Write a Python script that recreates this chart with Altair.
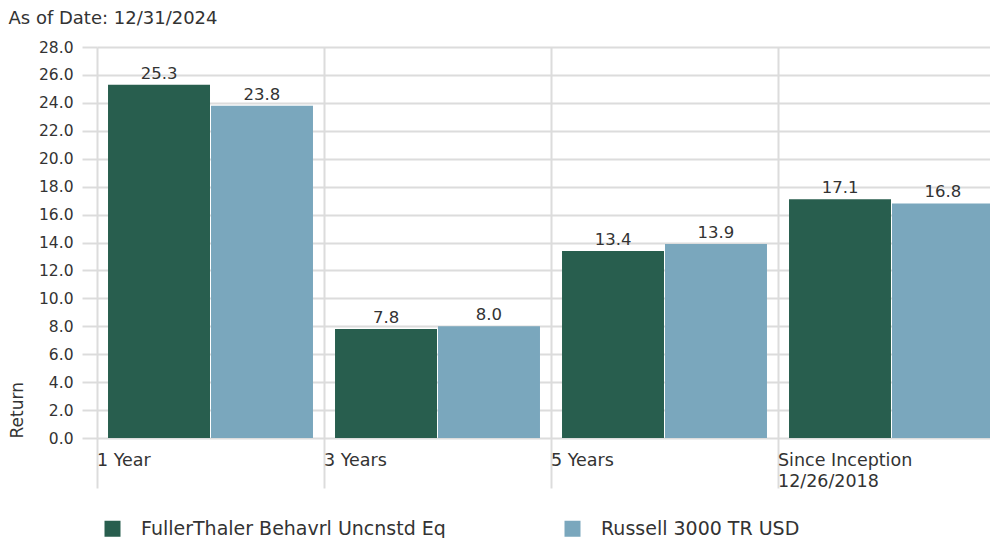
import altair as alt
import pandas as pd

categories = ["1 Year", "3 Years", "5 Years", "Since Inception 12/26/2018"]
series_names = ["FullerThaler Behavrl Uncnstd Eq", "Russell 3000 TR USD"]
fund_values = [25.3, 7.8, 13.4, 17.1]
bench_values = [23.8, 8.0, 13.9, 16.8]
colors = ["#285E4E", "#7AA7BD"]
y_ticks = [0, 2, 4, 6, 8, 10, 12, 14, 16, 18, 20, 22, 24, 26, 28]

rows = []
for c, f, b in zip(categories, fund_values, bench_values):
    rows.append({"cat": c, "series": series_names[0], "value": f})
    rows.append({"cat": c, "series": series_names[1], "value": b})
df = pd.DataFrame(rows)

FONT = "DejaVu Sans"
TXT = "#333333"
GRID = "#dcdcdc"

x_enc = alt.X(
    "cat:N",
    sort=categories,
    scale=alt.Scale(paddingInner=0, paddingOuter=0, range=[0, 908]),
    axis=alt.Axis(
        title=None,
        bandPosition=0,
        labelAlign="left",
        labelBaseline="top",
        labelPadding=-37,
        labelOffset=-113.5,
        tickSize=50,
        tickColor=GRID,
        tickWidth=2,
        grid=True,
        gridColor=GRID,
        gridWidth=2,
        domain=False,
        labelFont=FONT,
        labelFontSize=17.5,
        labelColor=TXT,
        labelLineHeight=21,
        labelAngle=0,
        labelLimit=300,
        labelOverlap=False,
        labelFlush=False,
        labelExpr="datum.value == 'Since Inception 12/26/2018' ? ['Since Inception', '12/26/2018'] : datum.label",
    ),
)
xoff = alt.XOffset(
    "series:N",
    sort=series_names,
    scale=alt.Scale(paddingInner=0.0097, paddingOuter=0.107),
)
y_enc = alt.Y(
    "value:Q",
    scale=alt.Scale(domain=[0, 28], nice=False),
    axis=alt.Axis(
        title="Return",
        titleAnchor="start",
        titleFont=FONT,
        titleFontSize=17,
        titleFontWeight="normal",
        titleColor=TXT,
        titlePadding=12,
        values=y_ticks,
        tickCount=15,
        format=".1f",
        labelFont=FONT,
        labelFontSize=15.5,
        labelColor=TXT,
        labelPadding=9,
        labelOverlap=False,
        labelFlush=False,
        tickSize=15,
        tickColor=GRID,
        tickWidth=2,
        grid=True,
        gridColor=GRID,
        gridWidth=2,
        domain=False,
    ),
)

bars = alt.Chart(df).mark_bar().encode(
    x=x_enc,
    xOffset=xoff,
    y=y_enc,
    color=alt.Color(
        "series:N",
        sort=series_names,
        scale=alt.Scale(domain=series_names, range=colors),
        legend=alt.Legend(
            title=None,
            orient="none",
            legendX=6,
            legendY=472,
            direction="horizontal",
            columns=2,
            columnPadding=117,
            symbolType="square",
            symbolSize=256,
            symbolStrokeWidth=0,
            labelFont=FONT,
            labelFontSize=19,
            labelColor=TXT,
            labelOffset=19,
            labelLimit=400,
        ),
    ),
)

labels = alt.Chart(df).mark_text(
    baseline="bottom", dy=-3, font=FONT, fontSize=16.5, color=TXT
).encode(
    x=x_enc,
    xOffset=xoff,
    y=y_enc,
    text=alt.Text("value:Q", format=".1f"),
)

chart = (
    alt.layer(bars, labels)
    .properties(
        width=893,
        height=391,
        autosize=alt.AutoSizeParams(type="none"),
        padding={"left": 89, "top": 39, "right": 0, "bottom": 100},
        title=alt.TitleParams(
            "As of Date: 12/31/2024",
            anchor="start",
            frame="bounds",
            font=FONT,
            fontSize=18,
            fontWeight="normal",
            color=TXT,
            offset=12,
        ),
    )
    .configure_view(stroke=None)
)

chart.save("out.html", embed_options={"renderer": "svg", "actions": False})
